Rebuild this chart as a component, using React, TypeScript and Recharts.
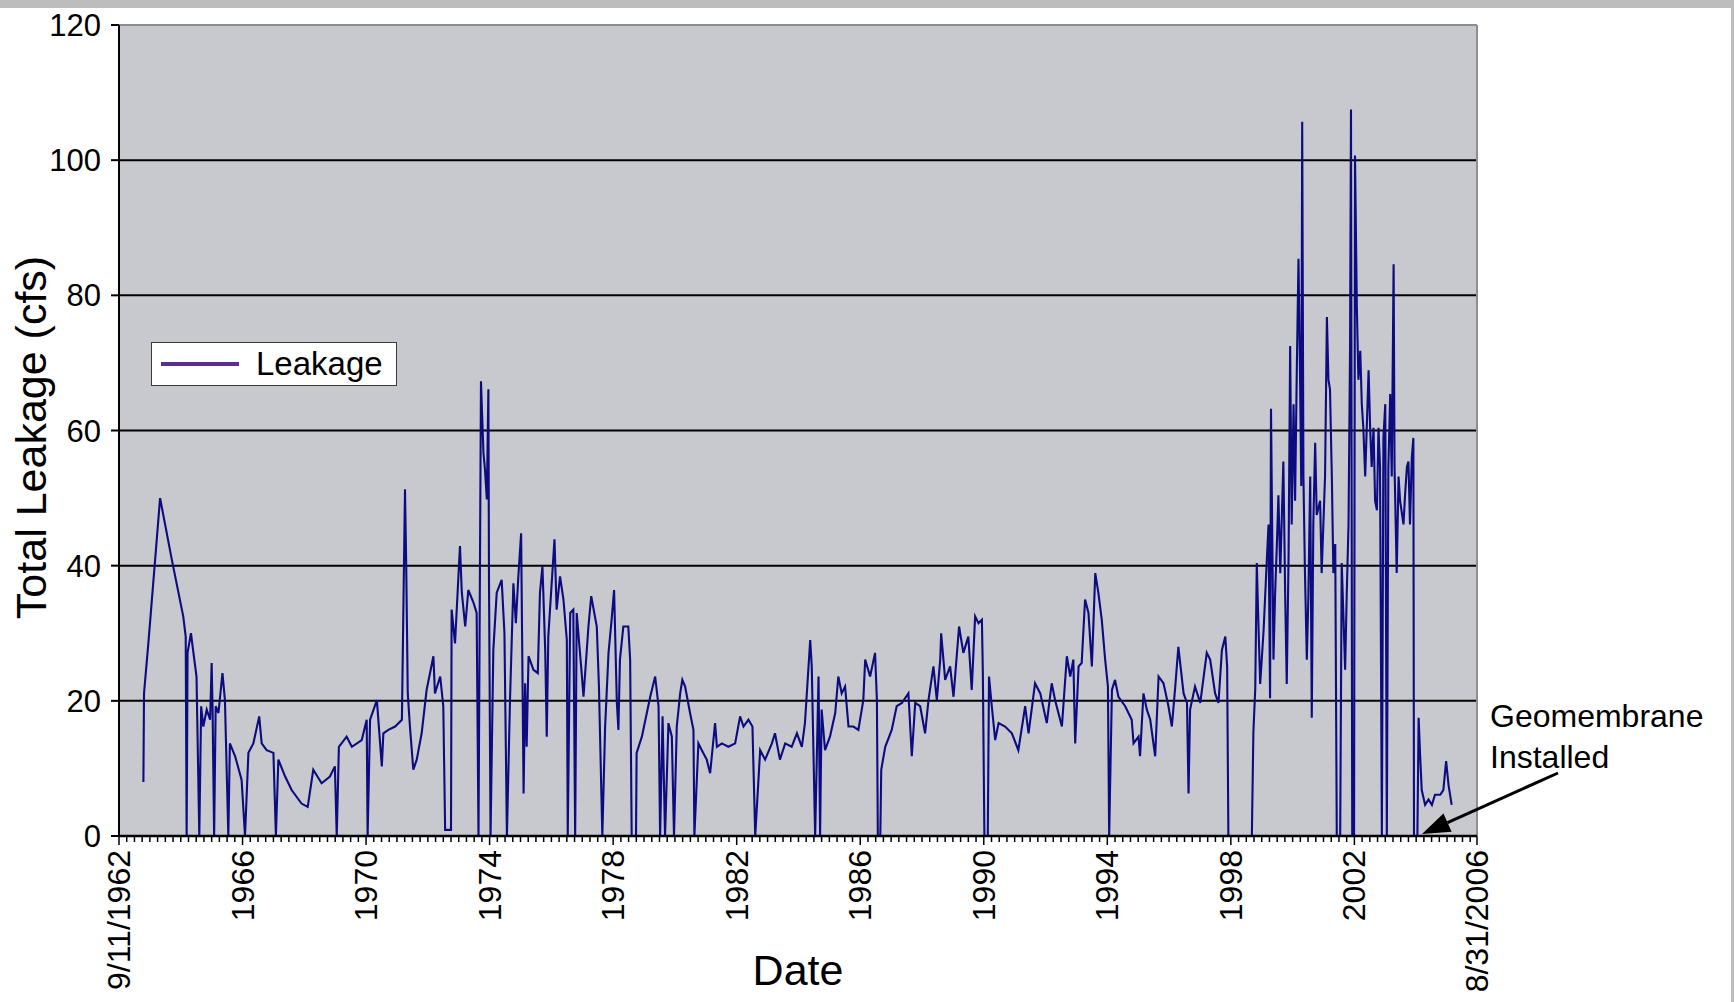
import React from 'react';
import { LineChart, Line, XAxis, YAxis, CartesianGrid, ReferenceLine, Legend } from 'recharts';

const FONT = '"Liberation Sans", Arial, Helvetica, sans-serif';

// Decimal-year dates of the readings
const dates = [
  1963.48, 1963.50, 1963.64, 1963.86, 1964.02, 1964.40, 1964.77, 1964.85, 1964.88, 1964.91,
  1965.02, 1965.10, 1965.20, 1965.29, 1965.35, 1965.42, 1965.53, 1965.64, 1965.69, 1965.72,
  1965.77, 1965.82, 1965.91, 1966.04, 1966.12, 1966.23, 1966.28, 1966.45, 1966.66, 1966.77,
  1966.88, 1967.04, 1967.23, 1967.31, 1967.47, 1967.69, 1967.77, 1967.85, 1968.07, 1968.28,
  1968.60, 1968.80, 1968.98, 1969.25, 1969.52, 1969.68, 1969.74, 1969.81, 1970.06, 1970.23,
  1970.55, 1970.71, 1970.74, 1970.82, 1971.04, 1971.20, 1971.25, 1971.41, 1971.63, 1971.85,
  1971.95, 1971.99, 1972.04, 1972.11, 1972.22, 1972.33, 1972.49, 1972.65, 1972.87, 1972.92,
  1973.09, 1973.19, 1973.25, 1973.44, 1973.46, 1973.57, 1973.73, 1973.79, 1973.90, 1974.00,
  1974.17, 1974.27, 1974.33, 1974.41, 1974.49, 1974.54, 1974.60, 1974.65, 1974.67, 1974.72,
  1974.81, 1974.92, 1975.08, 1975.17, 1975.25, 1975.35, 1975.46, 1975.54, 1975.62, 1975.71,
  1975.79, 1975.84, 1975.89, 1975.95, 1976.11, 1976.25, 1976.32, 1976.40, 1976.49, 1976.54,
  1976.59, 1976.79, 1976.86, 1976.97, 1977.08, 1977.19, 1977.22, 1977.30, 1977.40, 1977.46,
  1977.51, 1977.67, 1977.73, 1977.89, 1977.98, 1978.16, 1978.23, 1978.34, 1978.43, 1978.54,
  1978.64, 1978.72, 1978.81, 1978.86, 1978.91, 1979.02, 1979.18, 1979.24, 1979.29, 1979.43,
  1979.45, 1979.62, 1979.78, 1979.89, 1980.05, 1980.16, 1980.21, 1980.29, 1980.37, 1980.48,
  1980.59, 1980.66, 1980.75, 1980.86, 1980.93, 1981.02, 1981.18, 1981.29, 1981.32, 1981.45,
  1981.56, 1981.72, 1981.83, 1981.99, 1982.05, 1982.21, 1982.42, 1982.64, 1982.80, 1982.91,
  1983.07, 1983.20, 1983.29, 1983.45, 1983.61, 1983.83, 1983.93, 1984.09, 1984.26, 1984.47,
  1984.64, 1984.80, 1984.90, 1985.07, 1985.12, 1985.23, 1985.34, 1985.39, 1985.44, 1985.55,
  1985.71, 1985.88, 1985.98, 1986.09, 1986.20, 1986.31, 1986.47, 1986.63, 1986.79, 1986.85,
  1987.01, 1987.17, 1987.23, 1987.26, 1987.34, 1987.37, 1987.50, 1987.71, 1987.87, 1988.04,
  1988.25, 1988.36, 1988.47, 1988.63, 1988.79, 1988.90, 1989.06, 1989.17, 1989.28, 1989.31,
  1989.44, 1989.60, 1989.71, 1989.89, 1990.03, 1990.19, 1990.30, 1990.41, 1990.52, 1990.63,
  1990.66, 1990.71, 1990.82, 1990.86, 1990.95, 1991.06, 1991.17, 1991.38, 1991.60, 1991.81,
  1992.03, 1992.14, 1992.35, 1992.52, 1992.73, 1992.89, 1993.00, 1993.22, 1993.38, 1993.49,
  1993.59, 1993.65, 1993.76, 1993.86, 1993.97, 1994.08, 1994.19, 1994.30, 1994.40, 1994.51,
  1994.62, 1994.71, 1994.75, 1994.84, 1994.94, 1995.05, 1995.27, 1995.48, 1995.54, 1995.70,
  1995.75, 1995.86, 1995.97, 1996.08, 1996.24, 1996.35, 1996.51, 1996.67, 1996.78, 1996.89,
  1996.99, 1997.16, 1997.27, 1997.32, 1997.37, 1997.53, 1997.70, 1997.91, 1998.02, 1998.18,
  1998.29, 1998.40, 1998.51, 1998.57, 1998.61, 1999.37, 1999.42, 1999.48, 1999.53, 1999.58,
  1999.64, 1999.75, 1999.85, 1999.91, 1999.96, 1999.99, 2000.07, 2000.12, 2000.18, 2000.23,
  2000.29, 2000.39, 2000.45, 2000.50, 2000.56, 2000.61, 2000.66, 2000.72, 2000.77, 2000.83,
  2000.88, 2000.93, 2000.97, 2001.00, 2001.04, 2001.09, 2001.15, 2001.20, 2001.26, 2001.31,
  2001.36, 2001.42, 2001.47, 2001.58, 2001.63, 2001.74, 2001.80, 2001.85, 2001.90, 2001.96,
  2002.01, 2002.07, 2002.12, 2002.23, 2002.28, 2002.34, 2002.39, 2002.44, 2002.50, 2002.55,
  2002.58, 2002.62, 2002.68, 2002.71, 2002.77, 2002.82, 2002.88, 2002.93, 2002.98, 2003.04,
  2003.15, 2003.20, 2003.25, 2003.31, 2003.36, 2003.42, 2003.47, 2003.52, 2003.58, 2003.63,
  2003.69, 2003.74, 2003.79, 2003.85, 2003.90, 2003.96, 2003.99, 2004.06, 2004.12, 2004.17,
  2004.28, 2004.33, 2004.39, 2004.44, 2004.49, 2004.55, 2004.60, 2004.62, 2004.73, 2004.77,
  2004.82, 2004.87, 2004.98, 2005.09, 2005.20, 2005.30, 2005.47, 2005.57, 2005.66, 2005.74,
  2005.84,
];

// Total leakage (cfs) at each date
const leakage = [
  8.0, 21.1, 28.5, 40.9, 50.0, 40.9, 32.5, 29.5, 0, 27.1,
  30.0, 27.1, 23.6, 0, 19.2, 16.2, 18.7, 17.2, 25.6, 18.7,
  0, 19.2, 18.2, 24.1, 20.1, 0, 13.7, 11.8, 8.3, 0,
  12.3, 13.7, 17.7, 13.7, 12.7, 12.3, 0, 11.3, 8.8, 6.8,
  4.8, 4.3, 9.8, 7.8, 8.8, 10.3, 0, 13.2, 14.7, 13.2,
  14.2, 17.2, 0, 17.2, 20.1, 10.3, 15.2, 15.7, 16.2, 17.2,
  51.3, 39.9, 21.1, 16.2, 9.8, 11.3, 15.2, 21.6, 26.6, 21.1,
  23.6, 19.2, 0.9, 0.9, 33.5, 28.5, 42.9, 36.0, 31.0, 36.4,
  34.5, 33.0, 0, 67.3, 56.7, 54.2, 49.8, 66.1, 37.9, 0,
  27.5, 36.0, 37.9, 30.0, 0, 20.1, 37.4, 31.5, 38.4, 44.8,
  6.3, 22.6, 13.2, 26.6, 24.6, 24.1, 36.0, 39.9, 27.5, 14.7,
  29.5, 43.9, 33.5, 38.4, 35.0, 29.0, 0, 33.0, 33.5, 0,
  33.0, 24.1, 20.6, 31.0, 35.5, 31.0, 22.1, 0, 16.2, 27.1,
  32.0, 36.4, 19.7, 15.7, 26.1, 31.0, 31.0, 26.1, 0, 0,
  12.3, 14.7, 18.2, 20.6, 23.6, 19.2, 0, 17.7, 0, 16.7,
  14.7, 0, 16.2, 21.1, 23.1, 22.1, 18.2, 15.7, 0, 13.7,
  12.7, 11.3, 9.3, 16.7, 13.2, 13.7, 13.2, 13.7, 17.7, 16.2,
  17.2, 16.2, 0, 12.7, 11.3, 13.7, 15.2, 11.3, 13.7, 13.2,
  15.2, 13.2, 16.7, 29.0, 25.1, 0, 23.6, 0, 18.7, 12.7,
  14.7, 18.2, 23.6, 21.1, 22.1, 16.2, 16.2, 15.7, 20.1, 26.1,
  23.6, 27.1, 20.1, 0, 0, 9.8, 13.2, 15.7, 19.2, 19.7,
  21.1, 11.8, 19.7, 19.2, 15.2, 20.1, 25.1, 20.1, 26.1, 30.0,
  23.1, 25.1, 20.6, 31.0, 27.1, 29.5, 21.6, 32.5, 31.5, 32.0,
  24.1, 0, 0, 23.6, 19.2, 14.2, 16.7, 16.2, 15.2, 12.7,
  19.2, 15.2, 22.6, 21.1, 16.7, 22.6, 20.1, 16.2, 26.6, 23.6,
  26.1, 13.7, 25.1, 25.6, 35.0, 33.0, 25.1, 38.9, 36.0, 32.0,
  26.1, 22.1, 0, 21.6, 23.1, 20.6, 19.2, 17.2, 13.7, 14.7,
  11.8, 21.1, 18.7, 17.2, 11.8, 23.6, 22.6, 19.2, 16.2, 22.1,
  28.0, 21.1, 19.7, 6.3, 18.7, 22.1, 19.7, 27.1, 26.1, 21.1,
  19.7, 27.5, 29.5, 25.1, 0, 0, 15.4, 21.8, 40.4, 31.8,
  22.5, 30.4, 40.4, 46.1, 20.4, 63.2, 26.1, 35.4, 43.2, 50.4,
  38.9, 55.4, 35.4, 22.5, 41.8, 72.5, 46.1, 63.9, 49.6, 70.4,
  85.4, 68.2, 51.8, 105.7, 53.2, 38.9, 26.1, 35.4, 53.2, 17.5,
  46.1, 58.2, 47.5, 49.6, 38.9, 53.2, 76.8, 67.5, 66.1, 53.2,
  38.9, 43.2, 0, 0, 40.4, 31.8, 24.6, 35.4, 46.1, 72.5,
  107.5, 0, 0, 100.7, 78.2, 67.5, 71.8, 63.9, 60.4, 53.2,
  68.9, 60.4, 54.6, 60.4, 49.6, 48.2, 60.4, 54.6, 0, 58.9,
  63.9, 0, 54.6, 65.4, 53.2, 84.6, 54.6, 38.9, 53.2, 49.6,
  46.1, 50.4, 54.6, 55.4, 46.1, 56.1, 58.9, 0, 0, 17.5,
  11.8, 6.8, 4.6, 5.4, 4.6, 6.1, 6.1, 6.8, 11.1, 7.5,
  4.6,
];

const data = dates.map((d, i) => ({ date: d, leakage: leakage[i] }));

const xDomain = [1962.69, 2006.66];
const majorTicks = [1962.69, 1966.69, 1970.69, 1974.69, 1978.69, 1982.69, 1986.69, 1990.69, 1994.69, 1998.69, 2002.69, 2006.66];
const majorTickLabels = ['9/11/1962', '1966', '1970', '1974', '1978', '1982', '1986', '1990', '1994', '1998', '2002', '8/31/2006'];
const yTicks = [0, 20, 40, 60, 80, 100, 120];

const minorTicks: number[] = [];
for (let k = 0; k < 176; k++) minorTicks.push(1962.69 + 0.25 * k);
const allTicks = [...minorTicks, 2006.66];

function XTick(props: any) {
  const { x, y, payload } = props;
  const v = payload.value;
  const idx = majorTicks.findIndex((t) => Math.abs(t - v) < 0.001);
  const isMajor = idx >= 0;
  const ly = y + 14;
  return (
    <g>
      <line x1={x} y1={y} x2={x} y2={y + (isMajor ? 9 : 6)} stroke="#000" strokeWidth={1.5} />
      {isMajor && (
        <text
          x={x}
          y={ly}
          transform={`rotate(-90 ${x} ${ly})`}
          textAnchor="end"
          dominantBaseline="central"
          fontSize={32}
          fontFamily={FONT}
          fill="#000"
        >
          {majorTickLabels[idx]}
        </text>
      )}
    </g>
  );
}

function YTitle(props: any) {
  const vb = props.viewBox || { x: 0, y: 17, width: 119, height: 811 };
  const cx = vb.x + 31;
  const cy = vb.y + vb.height / 2 + 7;
  return (
    <text
      x={cx}
      y={cy}
      transform={`rotate(-90 ${cx} ${cy})`}
      textAnchor="middle"
      dominantBaseline="central"
      fontSize={43}
      fontFamily={FONT}
      fill="#000"
    >
      Total Leakage (cfs)
    </text>
  );
}

function XTitle(props: any) {
  const vb = props.viewBox || { x: 119, y: 828, width: 1358, height: 166 };
  return (
    <text x={vb.x + vb.width / 2} y={vb.y + 149} textAnchor="middle" fontSize={43} fontFamily={FONT} fill="#000">
      Date
    </text>
  );
}

function LegendBox() {
  return (
    <div
      style={{
        width: 246,
        height: 44,
        boxSizing: 'border-box',
        border: '1.5px solid #3a3a3a',
        background: '#fff',
        position: 'relative',
        fontFamily: FONT,
      }}
    >
      <div style={{ position: 'absolute', left: 9, top: 19, width: 78, height: 4, background: '#5a2d8e' }} />
      <div style={{ position: 'absolute', left: 104, top: 1, fontSize: 33, lineHeight: '40px', color: '#000' }}>Leakage</div>
    </div>
  );
}

export default function App() {
  const tipX = 1422, tipY = 834, tailX = 1558, tailY = 773;
  const dx = tailX - tipX, dy = tailY - tipY;
  const len = Math.sqrt(dx * dx + dy * dy);
  const ux = dx / len, uy = dy / len;
  const bx = tipX + ux * 28, by = tipY + uy * 28;
  const nx = -uy, ny = ux;
  const head = `${tipX},${tipY} ${bx + nx * 10},${by + ny * 10} ${bx - nx * 10},${by - ny * 10}`;

  return (
    <div style={{ position: 'absolute', left: 0, top: 0, width: 1734, height: 1002, background: '#bdbdbd', overflow: 'hidden' }}>
      <div style={{ position: 'absolute', left: 0, top: 8, width: 1731, height: 994, background: '#fff' }}>
        <LineChart width={1731} height={994} data={data} margin={{ top: 17, right: 254, bottom: 0, left: 0 }}>
          <CartesianGrid vertical={false} stroke="#000" strokeWidth={2} fill="#c8c9ce" fillOpacity={1} />
          <XAxis
            type="number"
            dataKey="date"
            domain={xDomain}
            allowDataOverflow
            ticks={allTicks}
            interval={0}
            tickLine={false}
            tickSize={0}
            tickMargin={0}
            tick={<XTick />}
            height={166}
            axisLine={{ stroke: '#000', strokeWidth: 2.5 }}
            label={{ content: <XTitle /> }}
          />
          <YAxis
            type="number"
            domain={[0, 120]}
            ticks={yTicks}
            interval={0}
            width={119}
            tickSize={8}
            tickMargin={10}
            tick={{ fontSize: 31, fill: '#000', fontFamily: FONT }}
            tickLine={{ stroke: '#000', strokeWidth: 2 }}
            axisLine={{ stroke: '#000', strokeWidth: 2 }}
            label={{ content: <YTitle /> }}
          />
          <ReferenceLine y={120} stroke="#8d8d8d" strokeWidth={2} />
          <ReferenceLine x={2006.66} stroke="#8d8d8d" strokeWidth={2} />
          <Legend
            layout="vertical"
            align="center"
            verticalAlign="middle"
            wrapperStyle={{ left: 151, top: 334, width: 246, height: 44 }}
            content={<LegendBox />}
          />
          <Line
            type="linear"
            dataKey="leakage"
            name="Leakage"
            stroke="#0c0c80"
            strokeWidth={2.1}
            dot={false}
            activeDot={false}
            isAnimationActive={false}
          />
        </LineChart>
      </div>
      <svg
        width={1734}
        height={1002}
        style={{ position: 'absolute', left: 0, top: 0, pointerEvents: 'none' }}
      >
        <text x={1490} y={727} fontSize={32} fontFamily={FONT} fill="#000">Geomembrane</text>
        <text x={1490} y={768} fontSize={32} fontFamily={FONT} fill="#000">Installed</text>
        <line x1={tailX} y1={tailY} x2={bx} y2={by} stroke="#000" strokeWidth={3} />
        <polygon points={head} fill="#000" />
      </svg>
    </div>
  );
}
